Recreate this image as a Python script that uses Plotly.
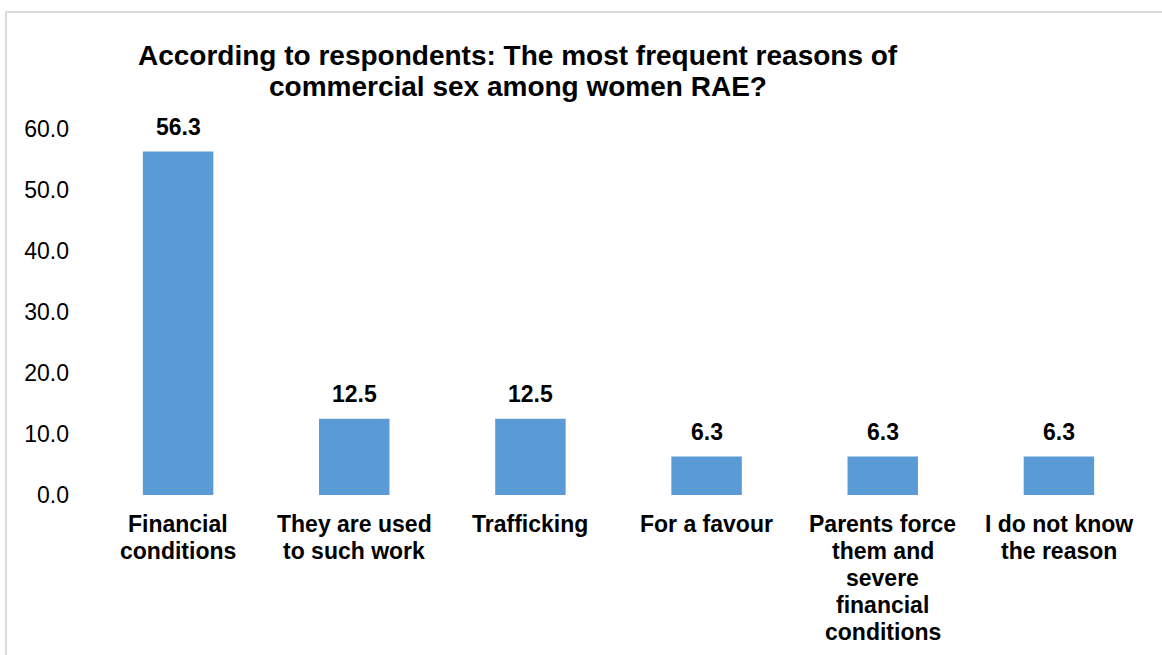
import plotly.graph_objects as go

# Survey results: share of respondents (%) per stated reason
categories = [
    "Financial<br>conditions",
    "They are used<br>to such work",
    "Trafficking",
    "For a favour",
    "Parents force<br>them and<br>severe<br>financial<br>conditions",
    "I do not know<br>the reason",
]
values = [56.3, 12.5, 12.5, 6.3, 6.3, 6.3]
y_ticks = [0, 10, 20, 30, 40, 50, 60]
title_lines = [
    "According to respondents: The most frequent reasons of",
    "commercial sex among women RAE?",
]

W, H = 1162, 655
ML, MR, MT, MB = 90, 15, 129, 160
PW, PH = W - ML - MR, H - MT - MB

FONT = "Liberation Sans, Arial, sans-serif"
BAR = "#5B9BD5"


def px_to_paper_x(px):
    return (px - ML) / PW


def px_to_paper_y(py):
    return (H - MB - py) / PH


x_pos = list(range(len(categories)))

fig = go.Figure(
    go.Bar(
        x=x_pos,
        y=values,
        width=0.4,
        marker=dict(color=BAR, line=dict(width=0)),
        hoverinfo="skip",
    )
)

annotations = []
# value labels above each bar
for xi, v in zip(x_pos, values):
    annotations.append(
        dict(
            x=xi, y=v, xref="x", yref="y",
            text=f"<b>{v:.1f}</b>",
            showarrow=False, yanchor="bottom", yshift=10,
            font=dict(family=FONT, size=23, color="#000000"),
        )
    )

# category labels, one annotation per line for tight line spacing
for xi, cat in zip(x_pos, categories):
    for j, line in enumerate(cat.split("<br>")):
        annotations.append(
            dict(
                x=xi, y=px_to_paper_y(524 + 27 * j), xref="x", yref="paper",
                text=f"<b>{line}</b>",
                showarrow=False, xanchor="center", yanchor="middle",
                font=dict(family=FONT, size=23, color="#000000"),
            )
        )

# two-line title
for i, line in enumerate(title_lines):
    annotations.append(
        dict(
            x=px_to_paper_x(518), y=px_to_paper_y(55 + 31 * i),
            xref="paper", yref="paper",
            text=f"<b>{line}</b>",
            showarrow=False, xanchor="center", yanchor="middle",
            font=dict(family=FONT, size=28, color="#000000"),
        )
    )

fig.update_layout(
    width=W, height=H,
    margin=dict(l=ML, r=MR, t=MT, b=MB),
    paper_bgcolor="white", plot_bgcolor="white",
    showlegend=False,
    annotations=annotations,
    shapes=[
        dict(
            type="rect", xref="paper", yref="paper",
            x0=px_to_paper_x(6), x1=px_to_paper_x(1175),
            y0=px_to_paper_y(670), y1=px_to_paper_y(12),
            line=dict(color="#d9d9d9", width=2),
            fillcolor="rgba(0,0,0,0)", layer="below",
        )
    ],
    xaxis=dict(
        range=[-0.5, len(categories) - 0.5],
        tickmode="array", tickvals=x_pos, ticktext=[""] * len(x_pos),
        showline=False, showgrid=False, zeroline=False, ticks="",
        automargin=False,
    ),
    yaxis=dict(
        range=[0, 60], tickvals=y_ticks,
        ticktext=[f"{t:.1f}" for t in y_ticks],
        showline=False, showgrid=False, zeroline=False, ticks="",
        tickfont=dict(family=FONT, size=23, color="#000000"),
        ticklabelstandoff=20,
        automargin=False,
    ),
)

fig.write_html("out.html")
